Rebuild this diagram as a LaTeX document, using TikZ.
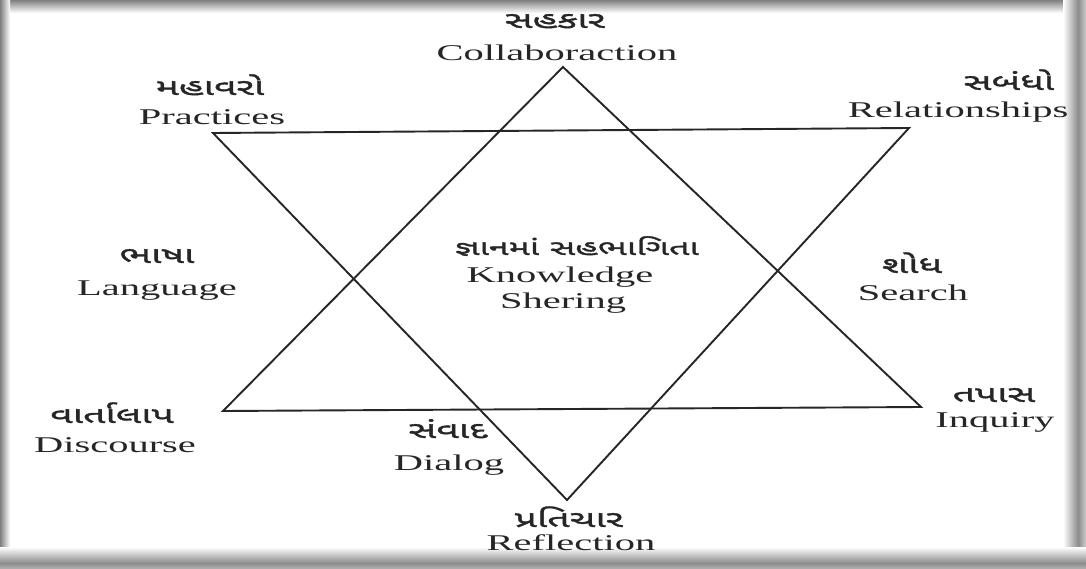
\documentclass[tikz,border=0pt]{standalone}
\usepackage{fontspec}
\setmainfont{Liberation Serif}[FakeStretch=1.8]
\newfontfamily\guj[Script=Gujarati,FakeStretch=1.7,FakeBold=1.5]{Noto Sans Gujarati UI}
\begin{document}
\begin{tikzpicture}[x=1pt,y=-1pt,
  en/.style={anchor=base,inner sep=0pt,font=\fontsize{22.5}{26}\selectfont,text=black!85},
  gu/.style={anchor=base,inner sep=0pt,font=\guj\fontsize{23}{26}\selectfont,text=black!85},
  tri/.style={draw=black!85,line width=1.9pt,line join=miter}]
\useasboundingbox (0,0) rectangle (1086,569);
\fill[white] (0,0) rectangle (1086,569);
% frame shadow
\shade[top color=black!50,bottom color=white] (0,0) rectangle (1086,13);
\shade[left color=black!50,right color=white] (0,0) rectangle (10,569);
\shade[left color=white,right color=black!45] (1063,0) rectangle (1078,569);
\shade[left color=black!45,right color=black!20] (1078,0) rectangle (1086,569);
\shade[top color=white,bottom color=black!45] (0,547) rectangle (1086,563);
\shade[top color=black!45,bottom color=black!30] (0,563) rectangle (1086,569);
% triangles
\coordinate (ua) at (563,67);
\coordinate (ul) at (223,411);
\coordinate (ur) at (921,407);
\coordinate (dl) at (213,133);
\coordinate (dr) at (909,128);
\coordinate (db) at (567,500);
\draw[tri] (ua) -- (ur) -- (ul) -- cycle;
\draw[tri] (dl) -- (dr) -- (db) -- cycle;
% labels
\node[gu] (g1) at (555,28) {સહકાર};
\node[en] (e1) at (557,61) {Collaboraction};
\node[gu] (g2) at (210,95) {મહાવરો};
\node[en] (e2) at (212,125) {Practices};
\node[gu] (g3) at (1009,90) {સબંધો};
\node[en] (e3) at (958,118) {Relationships};
\node[gu] (g4) at (157,263) {ભાષા};
\node[en] (e4) at (157,295) {Language};
\node[gu] (g5) at (912,273) {શોધ};
\node[en] (e5) at (913,300) {Search};
\node[gu] (g6) at (112,423) {વાર્તાલાપ};
\node[en] (e6) at (115,452) {Discourse};
\node[gu] (g7) at (448,438) {સંવાદ};
\node[en] (e7) at (449,470) {Dialog};
\node[gu] (g8) at (569,527) {પ્રતિચાર};
\node[en] (e8) at (571,550) {Reflection};
\node[gu] (g9) at (994,402) {તપાસ};
\node[en] (e9) at (995,427) {Inquiry};
\node[gu,font=\guj\fontsize{21}{24}\selectfont] (gc) at (577,255) {જ્ઞાનમાં સહભાગિતા};
\node[en] (ec1) at (560,283) {Knowledge};
\node[en] (ec2) at (563,308) {Shering};
\end{tikzpicture}
\end{document}
